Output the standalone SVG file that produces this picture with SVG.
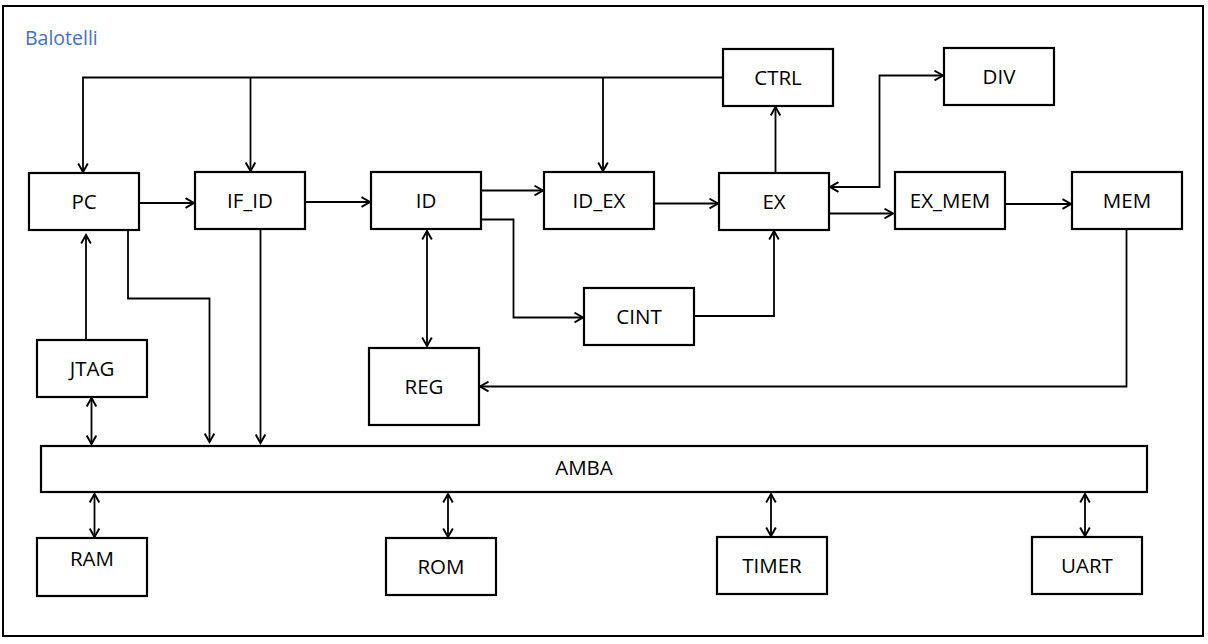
<svg xmlns="http://www.w3.org/2000/svg" width="1208" height="644" viewBox="0 0 1208 644">
<style>
.box{fill:#fff;stroke:#000;stroke-width:2.2}
.lbl{font-family:"Open Sans","Noto Sans",sans-serif;font-size:20.5px;fill:#000;text-anchor:middle}
.ln{fill:none;stroke:#000;stroke-width:1.8}
.a{marker-end:url(#ah)}
.d{marker-start:url(#ah);marker-end:url(#ah)}
</style>
<defs>
<marker id="ah" markerUnits="userSpaceOnUse" viewBox="0 0 12 12" markerWidth="12" markerHeight="12" refX="10" refY="6" orient="auto-start-reverse">
<path d="M1.5,1.2 L10,6 L1.5,10.8" fill="none" stroke="#000" stroke-width="1.9"/>
</marker>
</defs>
<rect x="0" y="0" width="1208" height="644" fill="#fff"/>
<rect id="frame" x="3" y="6" width="1200" height="630" fill="none" stroke="#000" stroke-width="2"/>
<text x="25" y="45" style="font-family:'Open Sans','Noto Sans',sans-serif;font-size:19.5px;fill:#4472C4">Balotelli</text>

<g id="connectors">
<polyline class="ln a" points="723,77.5 83,77.5 83,172"/>
<line class="ln a" x1="250.5" y1="77.5" x2="250.5" y2="171"/>
<line class="ln a" x1="603" y1="77.5" x2="603" y2="171"/>
<line class="ln a" x1="139" y1="203" x2="194" y2="203"/>
<line class="ln a" x1="305" y1="202" x2="370" y2="202"/>
<line class="ln a" x1="481" y1="190.5" x2="543" y2="190.5"/>
<polyline class="ln a" points="481,219.5 513.5,219.5 513.5,317.5 583,317.5"/>
<line class="ln d" x1="427" y1="231" x2="427" y2="346"/>
<line class="ln a" x1="654" y1="203.5" x2="718" y2="203.5"/>
<polyline class="ln a" points="694,316 774,316 774,231"/>
<line class="ln a" x1="775.5" y1="173" x2="775.5" y2="107"/>
<polyline class="ln d" points="830,187 879.5,187 879.5,75.5 943,75.5"/>
<line class="ln a" x1="829" y1="213.5" x2="893" y2="213.5"/>
<line class="ln a" x1="1005" y1="204" x2="1071" y2="204"/>
<polyline class="ln a" points="1126.5,229 1126.5,386.5 480,386.5"/>
<line class="ln a" x1="86" y1="340" x2="86" y2="235"/>
<line class="ln d" x1="91.5" y1="398" x2="91.5" y2="444"/>
<polyline class="ln a" points="128,230 128,298.5 209.5,298.5 209.5,442"/>
<line class="ln a" x1="260.5" y1="229" x2="260.5" y2="443"/>
<line class="ln d" x1="94.5" y1="494" x2="94.5" y2="537"/>
<line class="ln d" x1="448" y1="494" x2="448" y2="537"/>
<line class="ln d" x1="771" y1="494" x2="771" y2="536"/>
<line class="ln d" x1="1085" y1="494" x2="1085" y2="536"/>
</g>

<g id="PC"><rect class="box" x="29" y="173" width="110" height="57"/><text class="lbl" x="84" y="209">PC</text></g>
<g id="IF_ID"><rect class="box" x="195" y="172" width="110" height="57"/><text class="lbl" x="250" y="208">IF_ID</text></g>
<g id="ID"><rect class="box" x="371" y="172" width="110" height="57"/><text class="lbl" x="426" y="208">ID</text></g>
<g id="ID_EX"><rect class="box" x="544" y="172" width="110" height="57"/><text class="lbl" x="599" y="208">ID_EX</text></g>
<g id="EX"><rect class="box" x="719" y="173" width="110" height="57"/><text class="lbl" x="774" y="209">EX</text></g>
<g id="EX_MEM"><rect class="box" x="895" y="172" width="110" height="57"/><text class="lbl" x="950" y="208">EX_MEM</text></g>
<g id="MEM"><rect class="box" x="1072" y="172" width="110" height="57"/><text class="lbl" x="1127" y="208">MEM</text></g>
<g id="CTRL"><rect class="box" x="723" y="49" width="110" height="57"/><text class="lbl" x="778" y="85">CTRL</text></g>
<g id="DIV"><rect class="box" x="944" y="48" width="110" height="57"/><text class="lbl" x="999" y="84">DIV</text></g>
<g id="CINT"><rect class="box" x="584" y="288" width="110" height="57"/><text class="lbl" x="639" y="324">CINT</text></g>
<g id="REG"><rect class="box" x="369" y="348" width="110" height="77"/><text class="lbl" x="424" y="394">REG</text></g>
<g id="JTAG"><rect class="box" x="37" y="340" width="110" height="57"/><text class="lbl" x="92" y="376">JTAG</text></g>
<g id="AMBA"><rect class="box" x="41" y="446" width="1106" height="46"/><text class="lbl" x="584" y="475">AMBA</text></g>
<g id="RAM"><rect class="box" x="37" y="538" width="110" height="58"/><text class="lbl" x="92" y="566">RAM</text></g>
<g id="ROM"><rect class="box" x="386" y="538" width="110" height="57"/><text class="lbl" x="441" y="574">ROM</text></g>
<g id="TIMER"><rect class="box" x="717" y="537" width="110" height="57"/><text class="lbl" x="772" y="573">TIMER</text></g>
<g id="UART"><rect class="box" x="1032" y="537" width="110" height="57"/><text class="lbl" x="1087" y="573">UART</text></g>
</svg>
